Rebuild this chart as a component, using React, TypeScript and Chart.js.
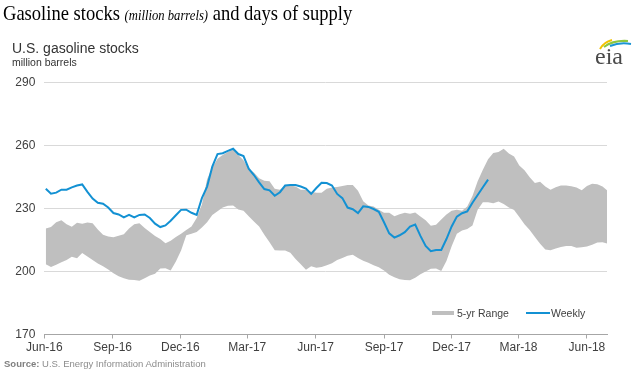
import React, { useEffect, useRef } from 'react';
import { Chart, registerables } from 'chart.js';

Chart.register(...registerables);

// x values are days after 1 Jun 2016; weekly observations start on 3 Jun 2016
const FIRST_DAY = 2;
const WEEK = 7;
const X_MAX = 757;

const tickDays = [0, 92, 183, 273, 365, 457, 548, 638, 730];
const tickLabels = ['Jun-16', 'Sep-16', 'Dec-16', 'Mar-17', 'Jun-17', 'Sep-17', 'Dec-17', 'Mar-18', 'Jun-18'];
const yMin = 170;
const yMax = 290;
const yStep = 30;

// Weekly U.S. gasoline stocks, million barrels
const weekly = [
  239.5, 237.1, 237.6, 239, 239, 240.1, 241, 241.5, 238, 234.8,
  232.8, 232.3, 230.5, 227.9, 227.2, 225.8, 227, 225.8, 227, 227.2,
  225.5, 222.8, 221.2, 222, 224.2, 226.8, 229.4, 229.5, 228, 227,
  235, 240.5, 250, 256, 256.4, 257.5, 258.5, 256, 255, 249,
  246, 242.5, 239.3, 238.7, 236.1, 237.8, 241, 241.3, 241.2, 240.5,
  239.5, 237, 239.8, 242.3, 242.2, 241, 237, 235, 230.5, 229.7,
  227.9, 231.1, 230.8, 229.8, 228.5, 223.5, 218.2, 216.2, 217.3, 218.8,
  221.4, 222.4, 217, 212.2, 209.7, 210.3, 210.3, 215.5, 221.5, 226.2,
  227.8, 228.7, 232.8, 236.5, 240.2, 243.8,
];

// 5-year range, upper edge
const rangeHigh = [
  220.5, 221.2, 223.5, 224.5, 222.5, 221.3, 223.3, 222.8, 223.4, 223,
  220, 217.5, 216.7, 216.3, 217.1, 217.8, 220.5, 222.5, 223, 220.7,
  218.8, 217, 215.5, 213.5, 214.7, 216.5, 218, 219.8, 221.5, 225.5,
  232, 244, 249.5, 253.8, 255.6, 257, 258.2, 255.5, 253, 249,
  247.2, 244.5, 243.3, 243, 239.5, 239, 241, 241, 240.5, 239,
  239, 238, 237.5, 237.5, 239.5, 240, 240.3, 240.8, 241.2, 241.3,
  238.5, 233.5, 231.5, 231, 229.5, 228, 228, 226.3, 227.3, 228,
  227.5, 228.2, 226.2, 224.5, 221.8, 222.3, 224.8, 227.2, 229, 229.5,
  229, 231, 236, 243, 248.5, 253.5, 256.5, 257, 258.5, 256.2,
  254.8, 250.5, 248.3, 245, 242.2, 242.8, 240.5, 239, 240.2, 241,
  241, 240.6, 240.1, 238.7, 240.8, 241.9, 241.6, 240.5, 238.5,
];

// 5-year range, lower edge
const rangeLow = [
  203.5, 202.2, 203.3, 204.4, 205.5, 207, 206.3, 208.8, 207.2, 205.5,
  203.8, 202.5, 201, 199.2, 197.8, 196.8, 196.1, 196, 195.6, 196.8,
  198.1, 199, 201.5, 201.6, 200.5, 204.8, 210, 217.3, 218, 218.8,
  221, 223.5, 227, 228.7, 230.5, 231.3, 231.5, 229.6, 229, 226.3,
  223.8, 221.5, 217.5, 214, 210.2, 210, 210, 209, 206, 203.5,
  200.8, 202.5, 201.8, 202.2, 203, 204, 205.5, 206.5, 207.5, 208,
  206.5, 205.2, 204.2, 203, 202, 200.5, 198.5, 197.3, 196.3, 196,
  195.8, 197, 198.7, 200, 201.3, 201.5, 200.3, 205, 212, 218,
  219.6, 220.3, 222, 229.5, 233, 233, 232.6, 233.4, 232.2, 230.5,
  229.3, 226, 222.5, 219.8, 216.5, 213.2, 210.5, 210.2, 211, 211.7,
  212.2, 212.2, 211.4, 211.6, 211.9, 212.8, 213.8, 214, 213.2,
];

const BLUE = '#1391d3';
const BAND = '#bfbfbf';
const SANS = '"Liberation Sans", Arial, Helvetica, sans-serif';
const SERIF = '"Liberation Serif", "Times New Roman", serif';

const toPoints = (arr: number[]) => arr.map((v, i) => ({ x: FIRST_DAY + WEEK * i, y: v }));

function EiaLogo() {
  return (
    <div style={{ position: 'absolute', left: 590, top: 34, width: 46, height: 36 }}>
      <svg width={46} height={36} style={{ position: 'absolute', left: 0, top: 0 }}>
        <path d="M 10 15 Q 14 8 22 6" stroke="#f2c200" strokeWidth={2} fill="none" />
        <path d="M 14 13 Q 23 6 38 7" stroke="#8cc63f" strokeWidth={2} fill="none" />
        <path d="M 20 12 Q 30 8 41 10" stroke="#1b95d4" strokeWidth={2} fill="none" />
      </svg>
      <div style={{ position: 'absolute', left: 5, top: 9.5, fontFamily: SERIF, fontSize: 24, lineHeight: '24px', color: '#4a4a4a' }}>eia</div>
    </div>
  );
}

export default function App() {
  const canvasRef = useRef<HTMLCanvasElement | null>(null);

  useEffect(() => {
    const canvas = canvasRef.current;
    if (!canvas) return;
    const chart = new Chart(canvas, {
      type: 'line',
      data: {
        datasets: [
          {
            label: 'Weekly',
            data: toPoints(weekly),
            borderColor: BLUE,
            borderWidth: 2,
            pointRadius: 0,
            fill: false,
            tension: 0,
            order: 0,
          },
          {
            label: 'range-low',
            data: toPoints(rangeLow),
            borderColor: 'rgba(0,0,0,0)',
            borderWidth: 1,
            pointRadius: 0,
            fill: false,
            order: 2,
          },
          {
            label: '5-yr Range',
            data: toPoints(rangeHigh),
            borderColor: 'rgba(0,0,0,0)',
            borderWidth: 1,
            backgroundColor: BAND,
            pointRadius: 0,
            fill: 1,
            order: 1,
          },
        ],
      },
      options: {
        responsive: false,
        animation: false,
        devicePixelRatio: 1,
        events: [],
        layout: { padding: { left: 0, right: 33, top: 82.7, bottom: 0 } },
        plugins: {
          legend: { display: false },
          tooltip: { enabled: false },
          title: { display: false },
        },
        scales: {
          x: {
            type: 'linear',
            min: 0,
            max: X_MAX,
            afterFit: (scale: any) => {
              scale.height = 40.5;
            },
            afterBuildTicks: (scale: any) => {
              scale.ticks = tickDays.map((v) => ({ value: v }));
            },
            ticks: {
              autoSkip: false,
              maxRotation: 0,
              minRotation: 0,
              padding: 2,
              color: '#404040',
              font: { family: SANS, size: 12 },
              callback: (_v: any, index: number) => tickLabels[index],
            },
            grid: {
              drawOnChartArea: false,
              drawTicks: true,
              tickLength: 4,
              color: '#a6a6a6',
            },
            border: { display: true, color: '#a6a6a6', width: 1 },
          },
          y: {
            min: yMin,
            max: yMax,
            afterFit: (scale: any) => {
              scale.width = 44.3;
            },
            ticks: {
              stepSize: yStep,
              padding: 9,
              color: '#404040',
              font: { family: SANS, size: 12 },
            },
            grid: {
              color: '#d9d9d9',
              drawTicks: false,
            },
            border: { display: false },
          },
        },
      },
    });
    return () => chart.destroy();
  }, []);

  return (
    <div style={{ position: 'absolute', left: 0, top: 0, width: 640, height: 375, background: '#fff', overflow: 'hidden' }}>
      <canvas ref={canvasRef} width={640} height={375} style={{ position: 'absolute', left: 0, top: 0, width: 640, height: 375 }} />
      <div style={{ position: 'absolute', left: 3, top: 1, fontFamily: SERIF, fontSize: 22, lineHeight: '24px', color: '#000', whiteSpace: 'nowrap', transform: 'scaleX(0.843)', transformOrigin: '0 0' }}>
        Gasoline stocks <i style={{ fontSize: 15 }}>(million barrels)</i> and days of supply
      </div>
      <div style={{ position: 'absolute', left: 12, top: 40, fontFamily: SANS, fontSize: 14, lineHeight: '16px', color: '#333', whiteSpace: 'nowrap' }}>
        U.S. gasoline stocks
      </div>
      <div style={{ position: 'absolute', left: 12, top: 55.5, fontFamily: SANS, fontSize: 10.5, lineHeight: '12px', color: '#333', whiteSpace: 'nowrap' }}>
        million barrels
      </div>
      <EiaLogo />
      {/* legend */}
      <div style={{ position: 'absolute', left: 432, top: 311, width: 22, height: 4, background: BAND }} />
      <div style={{ position: 'absolute', left: 457, top: 307, fontFamily: SANS, fontSize: 10.5, lineHeight: '12px', color: '#404040', whiteSpace: 'nowrap' }}>
        5-yr Range
      </div>
      <div style={{ position: 'absolute', left: 526, top: 312, width: 24, height: 2, background: BLUE }} />
      <div style={{ position: 'absolute', left: 551, top: 307, fontFamily: SANS, fontSize: 10.5, lineHeight: '12px', color: '#404040', whiteSpace: 'nowrap' }}>
        Weekly
      </div>
      <div style={{ position: 'absolute', left: 4, top: 357.5, fontFamily: SANS, fontSize: 9.5, lineHeight: '12px', color: '#8c8c8c', whiteSpace: 'nowrap' }}>
        <b style={{ color: '#7f7f7f' }}>Source:</b> U.S. Energy Information Administration
      </div>
    </div>
  );
}
